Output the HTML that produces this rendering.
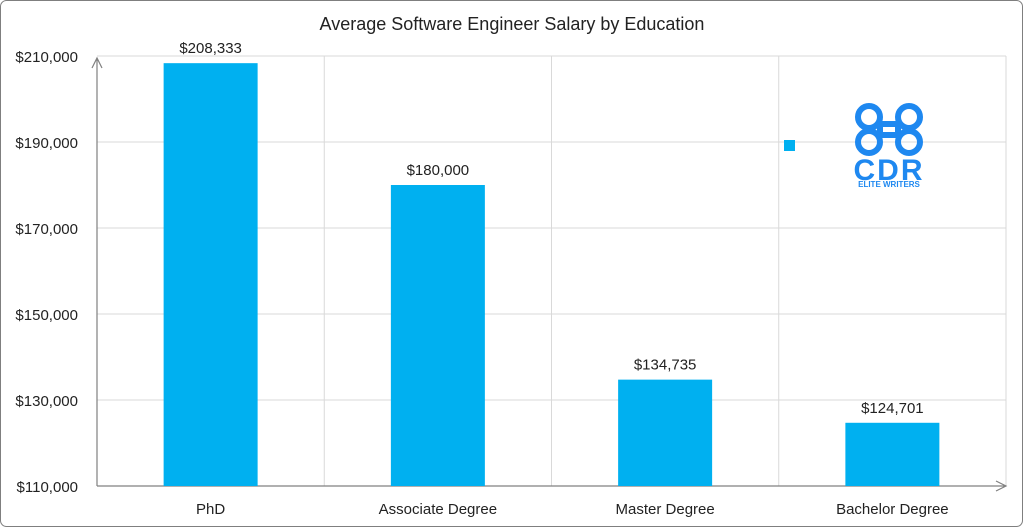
<!DOCTYPE html>
<html><head><meta charset="utf-8"><style>
html,body{margin:0;padding:0;background:#fff;}
svg{display:block;font-family:"Liberation Sans",sans-serif;}
</style></head><body>
<svg id="chart" width="1024" height="528">
<rect x="0.5" y="0.5" width="1022" height="526" rx="6" fill="#fff" stroke="#7f7f7f"/>
<text x="512" y="30" text-anchor="middle" font-size="18" fill="#222">Average Software Engineer Salary by Education</text>
<g id="grid"></g><g id="bars"></g><g id="labels"></g>
<g>
<rect x="784" y="140" width="11" height="11" fill="#00b0f0"/>
<g fill="none" stroke="#1e88f0" stroke-width="6">
<circle cx="869" cy="117" r="11"/><circle cx="909" cy="117" r="11"/>
<circle cx="869" cy="142" r="11"/><circle cx="909" cy="142" r="11"/>
<rect x="880" y="124" width="18" height="11"/>
</g>
<text x="889" y="180" text-anchor="middle" font-size="30" font-weight="bold" fill="#1e88f0" letter-spacing="2">CDR</text>
<text x="889" y="187" text-anchor="middle" font-size="8" font-weight="bold" fill="#1e88f0">ELITE WRITERS</text>
</g>
</svg>
<script>
const categories=["PhD","Associate Degree","Master Degree","Bachelor Degree"];
const values=[208333,180000,134735,124701];
const valueLabels=["$208,333","$180,000","$134,735","$124,701"];
const yTicks=[110000,130000,150000,170000,190000,210000];
const yTickLabels=["$110,000","$130,000","$150,000","$170,000","$190,000","$210,000"];
const NS="http://www.w3.org/2000/svg";
const X0=97,X1=1006,Y0=486,Y1=56,ymin=110000,ymax=210000;
const y=v=>Y0-(v-ymin)/(ymax-ymin)*(Y0-Y1);
const cw=(X1-X0)/categories.length;
const xc=i=>X0+cw*(i+0.5);
function mk(t,a,p){const e=document.createElementNS(NS,t);for(const k in a)e.setAttribute(k,a[k]);p.appendChild(e);return e;}
const g=document.getElementById('grid'),b=document.getElementById('bars'),l=document.getElementById('labels');
yTicks.forEach((v,i)=>{
 const ln=mk('line',{x1:X0,x2:X1,y1:y(v),y2:y(v),stroke:'#d9d9d9'},g);
 
 
 const t=mk('text',{x:78,y:y(v)+6,'text-anchor':'end','font-size':15,fill:'#222'},l);
 t.textContent=yTickLabels[i];
 
 
});
for(let i=1;i<=categories.length;i++){
 const ln=mk('line',{x1:X0+cw*i,x2:X0+cw*i,y1:Y1,y2:Y0,stroke:'#d9d9d9'},g);
 
 
}
const ya=mk('path',{d:`M${X0} ${Y0}V${Y1+2}M${X0-5} ${Y1+12}L${X0} ${Y1+2}L${X0+5} ${Y1+12}`,stroke:'#808080',fill:'none','stroke-width':1.2},g);


const xa=mk('path',{d:`M${X0} ${Y0}H${X1}M${X1-10} ${Y0-5}L${X1} ${Y0}L${X1-10} ${Y0+5}`,stroke:'#808080',fill:'none','stroke-width':1.2},g);


const bw=94;
categories.forEach((c,i)=>{
 const r=mk('rect',{x:xc(i)-bw/2,y:y(values[i]),width:bw,height:Y0-y(values[i]),fill:'#00b0f0'},b);
 
 
 const t=mk('text',{x:xc(i),y:y(values[i])-10,'text-anchor':'middle','font-size':15,fill:'#222'},l);
 t.textContent=valueLabels[i];
 
 
 const xt=mk('text',{x:xc(i),y:514,'text-anchor':'middle','font-size':15,fill:'#222'},l);
 xt.textContent=c;
 
 
});
</script>
</body></html>
